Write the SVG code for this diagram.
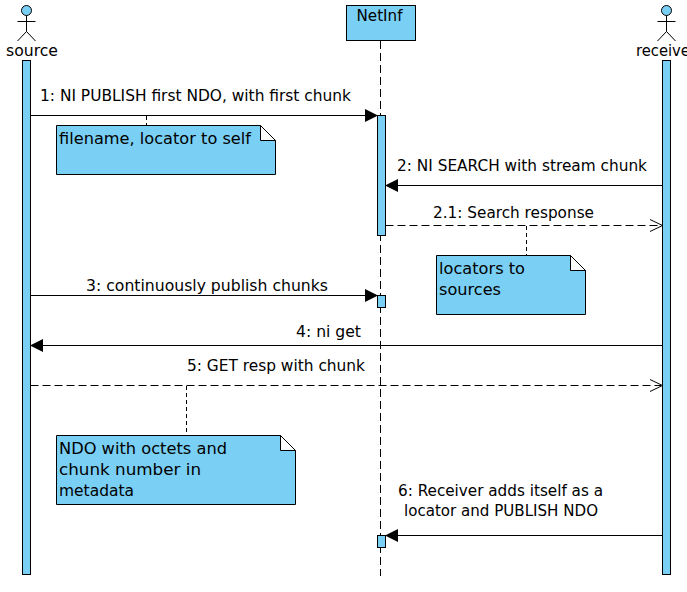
<svg xmlns="http://www.w3.org/2000/svg" width="687" height="592" viewBox="0 0 687 592">
<style>
text{font-family:"DejaVu Sans","Liberation Sans",sans-serif;font-size:15px;fill:#000}
.f{fill:#7ACFF5;stroke:#000;stroke-width:1}
.w{fill:#fff;stroke:#000;stroke-width:1}
.l{stroke:#000;stroke-width:1;fill:none}
.d{stroke:#000;stroke-width:1;fill:none;stroke-dasharray:8 4}
.n{stroke:#000;stroke-width:1;fill:none;stroke-dasharray:4 3}
.h{fill:#000}
</style>
<rect width="687" height="592" fill="#fff"/>
<g id="lifelines">
<line class="d" x1="380.5" y1="41" x2="380.5" y2="576"/>
</g>
<g id="source">
<circle class="f" cx="26.5" cy="10.5" r="5"/>
<path class="l" d="M26.5 15.5V31.5M17.5 21.5H35.5M17.5 41L26.5 31.5L35.5 41"/>
<text x="6" y="56" textLength="52" lengthAdjust="spacingAndGlyphs">source</text>
<rect class="f" x="22.5" y="60.5" width="8" height="514"/>
</g>
<g id="netinf">
<rect class="f" x="346.5" y="5.5" width="69" height="35"/>
<text x="356.5" y="21" textLength="46" lengthAdjust="spacingAndGlyphs">NetInf</text>
<rect class="f" x="377.5" y="115.5" width="8" height="120"/>
<rect class="f" x="377.5" y="295.5" width="8" height="12"/>
<rect class="f" x="377.5" y="535.5" width="8" height="12"/>
</g>
<g id="receiver">
<circle class="f" cx="666.5" cy="10.5" r="5"/>
<path class="l" d="M666.5 15.5V31.5M657.5 21.5H675.5M657.5 41L666.5 31.5L675.5 41"/>
<text x="636" y="56" textLength="60" lengthAdjust="spacingAndGlyphs">receiver</text>
<rect class="f" x="662.5" y="60.5" width="8" height="514"/>
</g>
<g id="connectors">
<line class="l" x1="30.5" y1="115.5" x2="366" y2="115.5"/>
<polygon class="h" points="365,109 378,115.5 365,122"/>
<text x="40" y="101" textLength="311" lengthAdjust="spacingAndGlyphs">1: NI PUBLISH first NDO, with first chunk</text>
<line class="l" x1="662.5" y1="185.5" x2="396" y2="185.5"/>
<polygon class="h" points="398,179 385,185.5 398,192"/>
<text x="397" y="171" textLength="250" lengthAdjust="spacingAndGlyphs">2: NI SEARCH with stream chunk</text>
<line class="d" x1="385.5" y1="225.5" x2="661" y2="225.5"/>
<path class="l" d="M650 219.5L662.5 225.5L650 231.5"/>
<text x="433" y="218" textLength="161" lengthAdjust="spacingAndGlyphs">2.1: Search response</text>
<line class="l" x1="30.5" y1="295.5" x2="366" y2="295.5"/>
<polygon class="h" points="365,289 378,295.5 365,302"/>
<text x="86" y="291" textLength="242" lengthAdjust="spacingAndGlyphs">3: continuously publish chunks</text>
<line class="l" x1="662.5" y1="345.5" x2="42" y2="345.5"/>
<polygon class="h" points="43,339 30,345.5 43,352"/>
<text x="296" y="337" textLength="65" lengthAdjust="spacingAndGlyphs">4: ni get</text>
<line class="d" x1="30.5" y1="385.5" x2="661" y2="385.5"/>
<path class="l" d="M650 379.5L662.5 385.5L650 391.5"/>
<text x="187" y="371" textLength="178" lengthAdjust="spacingAndGlyphs">5: GET resp with chunk</text>
<line class="l" x1="662.5" y1="535.5" x2="396" y2="535.5"/>
<polygon class="h" points="398,529 385,535.5 398,542"/>
<text x="398" y="496" textLength="205" lengthAdjust="spacingAndGlyphs">6: Receiver adds itself as a</text>
<text x="404" y="516" textLength="194" lengthAdjust="spacingAndGlyphs">locator and PUBLISH NDO</text>
<line class="n" x1="146.5" y1="116" x2="146.5" y2="125"/>
<line class="n" x1="526.5" y1="226" x2="526.5" y2="255"/>
<line class="n" x1="186.5" y1="386" x2="186.5" y2="435"/>
</g>
<g id="note1">
<path class="f" d="M56.5 125.5H260.5L275.5 140.5V174.5H56.5Z"/>
<path class="w" d="M260.5 125.5L275.5 140.5H260.5Z"/>
<text x="59" y="144" textLength="192" lengthAdjust="spacingAndGlyphs">filename, locator to self</text>
</g>
<g id="note2">
<path class="f" d="M436.5 255.5H570.5L585.5 270.5V314.5H436.5Z"/>
<path class="w" d="M570.5 255.5L585.5 270.5H570.5Z"/>
<text x="439" y="274" textLength="86" lengthAdjust="spacingAndGlyphs">locators to</text>
<text x="439" y="295" textLength="62" lengthAdjust="spacingAndGlyphs">sources</text>
</g>
<g id="note3">
<path class="f" d="M56.5 435.5H280.5L295.5 450.5V504.5H56.5Z"/>
<path class="w" d="M280.5 435.5L295.5 450.5H280.5Z"/>
<text x="59" y="454" textLength="168" lengthAdjust="spacingAndGlyphs">NDO with octets and</text>
<text x="59" y="475" textLength="142" lengthAdjust="spacingAndGlyphs">chunk number in</text>
<text x="59" y="496" textLength="75" lengthAdjust="spacingAndGlyphs">metadata</text>
</g>
</svg>
